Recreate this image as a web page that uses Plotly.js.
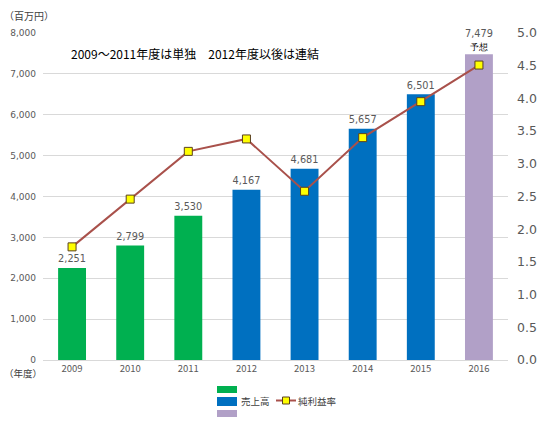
<!DOCTYPE html>
<html>
<head>
<meta charset="utf-8">
<script src="https://cdn.plot.ly/plotly-3.0.1.min.js"></script>
<style>
  html, body { margin: 0; padding: 0; background: #fff; }
  #chart { width: 550px; height: 427px; }
</style>
</head>
<body>
<div id="chart"></div>
<script>
// data
const years = ["2009", "2010", "2011", "2012", "2013", "2014", "2015", "2016"]
const soloYears = ["2009", "2010", "2011"]
const soloSales = [2251, 2799, 3530]
const consYears = ["2012", "2013", "2014", "2015"]
const consSales = [4167, 4681, 5657, 6501]
const forecastYears = ["2016"]
const forecastSales = [7479]
const marginRate = [1.73, 2.46, 3.19, 3.38, 2.58, 3.40, 3.95, 4.51]

const salesTicks = [0, 1000, 2000, 3000, 4000, 5000, 6000, 7000, 8000]
const rateTicks = [0, 0.5, 1, 1.5, 2, 2.5, 3, 3.5, 4, 4.5, 5]

const GREEN = "#00B050"
const BLUE = "#0070C0"
const PURPLE = "#B1A0C7"
const LINE = "#A9514B"
const NUM_FONT = "DejaVu Sans, Verdana, sans-serif"
const JP_FONT = "Noto Sans CJK JP, sans-serif"

// plot area in pixels, used to place the hand made legend
const plotLeft = 43, plotRight = 508, plotTop = 33, plotBottom = 360
function px(x) { return (x - plotLeft) / (plotRight - plotLeft) }
function py(y) { return (plotBottom - y) / (plotBottom - plotTop) }

function fmt(v) { return v.toLocaleString("en-US") }

function barTrace(x, y, color, labels) {
    return {
        type: "bar",
        x: x,
        y: y,
        width: 0.48,
        marker: { color: color },
        text: labels || y.map(fmt),
        textposition: "outside",
        cliponaxis: false,
        textfont: { family: NUM_FONT, size: 11, color: "#595959" },
        hoverinfo: "x+y",
        showlegend: false
    }
}

const data = [
    barTrace(soloYears, soloSales, GREEN),
    barTrace(consYears, consSales, BLUE),
    barTrace(forecastYears, forecastSales, PURPLE,
        forecastSales.map(v => fmt(v) + "<br><span style='font-size:10px;color:#000'>予想</span>")),
    {
        type: "scatter",
        mode: "lines+markers",
        x: years,
        y: marginRate,
        yaxis: "y2",
        line: { color: LINE, width: 2 },
        marker: { symbol: "square", size: 8, color: "#FFFF00", line: { color: "#5A4020", width: 1 } },
        cliponaxis: false,
        showlegend: false
    }
]

const legendShapes = [
    { x0: 217, x1: 237, y0: 386, y1: 393, color: GREEN },
    { x0: 217, x1: 237, y0: 397, y1: 406, color: BLUE },
    { x0: 217, x1: 237, y0: 410, y1: 417, color: PURPLE }
].map(b => ({
    type: "rect", xref: "paper", yref: "paper",
    x0: px(b.x0), x1: px(b.x1), y0: py(b.y0), y1: py(b.y1),
    fillcolor: b.color, line: { width: 0 }
}))

legendShapes.push({
    type: "line", xref: "paper", yref: "paper",
    x0: px(276), x1: px(296), y0: py(400.5), y1: py(400.5),
    line: { color: LINE, width: 2 }
})
legendShapes.push({
    type: "rect", xref: "paper", yref: "paper",
    x0: px(282.5), x1: px(289.5), y0: py(397), y1: py(404),
    fillcolor: "#FFFF00", line: { color: "#5A4020", width: 1 }
})

const layout = {
    width: 550,
    height: 427,
    margin: { l: plotLeft, r: 550 - plotRight, t: plotTop, b: 427 - plotBottom },
    paper_bgcolor: "#fff",
    plot_bgcolor: "#fff",
    barmode: "overlay",
    showlegend: false,
    font: { family: NUM_FONT, color: "#595959" },
    xaxis: {
        type: "category",
        categoryorder: "array",
        categoryarray: years,
        showgrid: false,
        showline: true,
        linecolor: "#D9D9D9",
        linewidth: 1,
        ticks: "",
        tickfont: { family: JP_FONT, size: 9.5, color: "#595959" },
        fixedrange: true
    },
    yaxis: {
        range: [0, 8000],
        tickvals: salesTicks,
        tickformat: ",",
        showgrid: true,
        gridcolor: "#D9D9D9",
        zeroline: false,
        ticks: "",
        ticklabelstandoff: 6,
        tickfont: { family: NUM_FONT, size: 9, color: "#595959" },
        fixedrange: true
    },
    yaxis2: {
        overlaying: "y",
        side: "right",
        range: [0, 5],
        tickvals: rateTicks,
        tickformat: ".1f",
        showgrid: false,
        zeroline: false,
        ticks: "",
        ticklabelstandoff: 8,
        tickfont: { family: NUM_FONT, size: 12.5, color: "#595959" },
        fixedrange: true
    },
    shapes: legendShapes,
    annotations: [
        {
            xref: "paper", yref: "paper", x: px(2), y: py(15),
            xanchor: "left", yanchor: "middle", showarrow: false,
            text: "（百万円）",
            font: { family: JP_FONT, size: 10, color: "#404040" }
        },
        {
            xref: "paper", yref: "paper", x: px(2), y: py(373),
            xanchor: "left", yanchor: "middle", showarrow: false,
            text: "（年度）",
            font: { family: JP_FONT, size: 9.5, color: "#404040" }
        },
        {
            xref: "paper", yref: "paper", x: px(69), y: py(53),
            xanchor: "left", yanchor: "middle", showarrow: false,
            text: "2009～2011年度は単独　2012年度以後は連結",
            font: { family: JP_FONT, size: 12, color: "#000" }
        },
        {
            xref: "paper", yref: "paper", x: px(239), y: py(400.5),
            xanchor: "left", yanchor: "middle", showarrow: false,
            text: "売上高",
            font: { family: JP_FONT, size: 9.5, color: "#404040" }
        },
        {
            xref: "paper", yref: "paper", x: px(296), y: py(400.5),
            xanchor: "left", yanchor: "middle", showarrow: false,
            text: "純利益率",
            font: { family: JP_FONT, size: 9.5, color: "#404040" }
        }
    ]
}

Plotly.newPlot("chart", data, layout, { displayModeBar: false, staticPlot: true })
</script>
</body>
</html>
